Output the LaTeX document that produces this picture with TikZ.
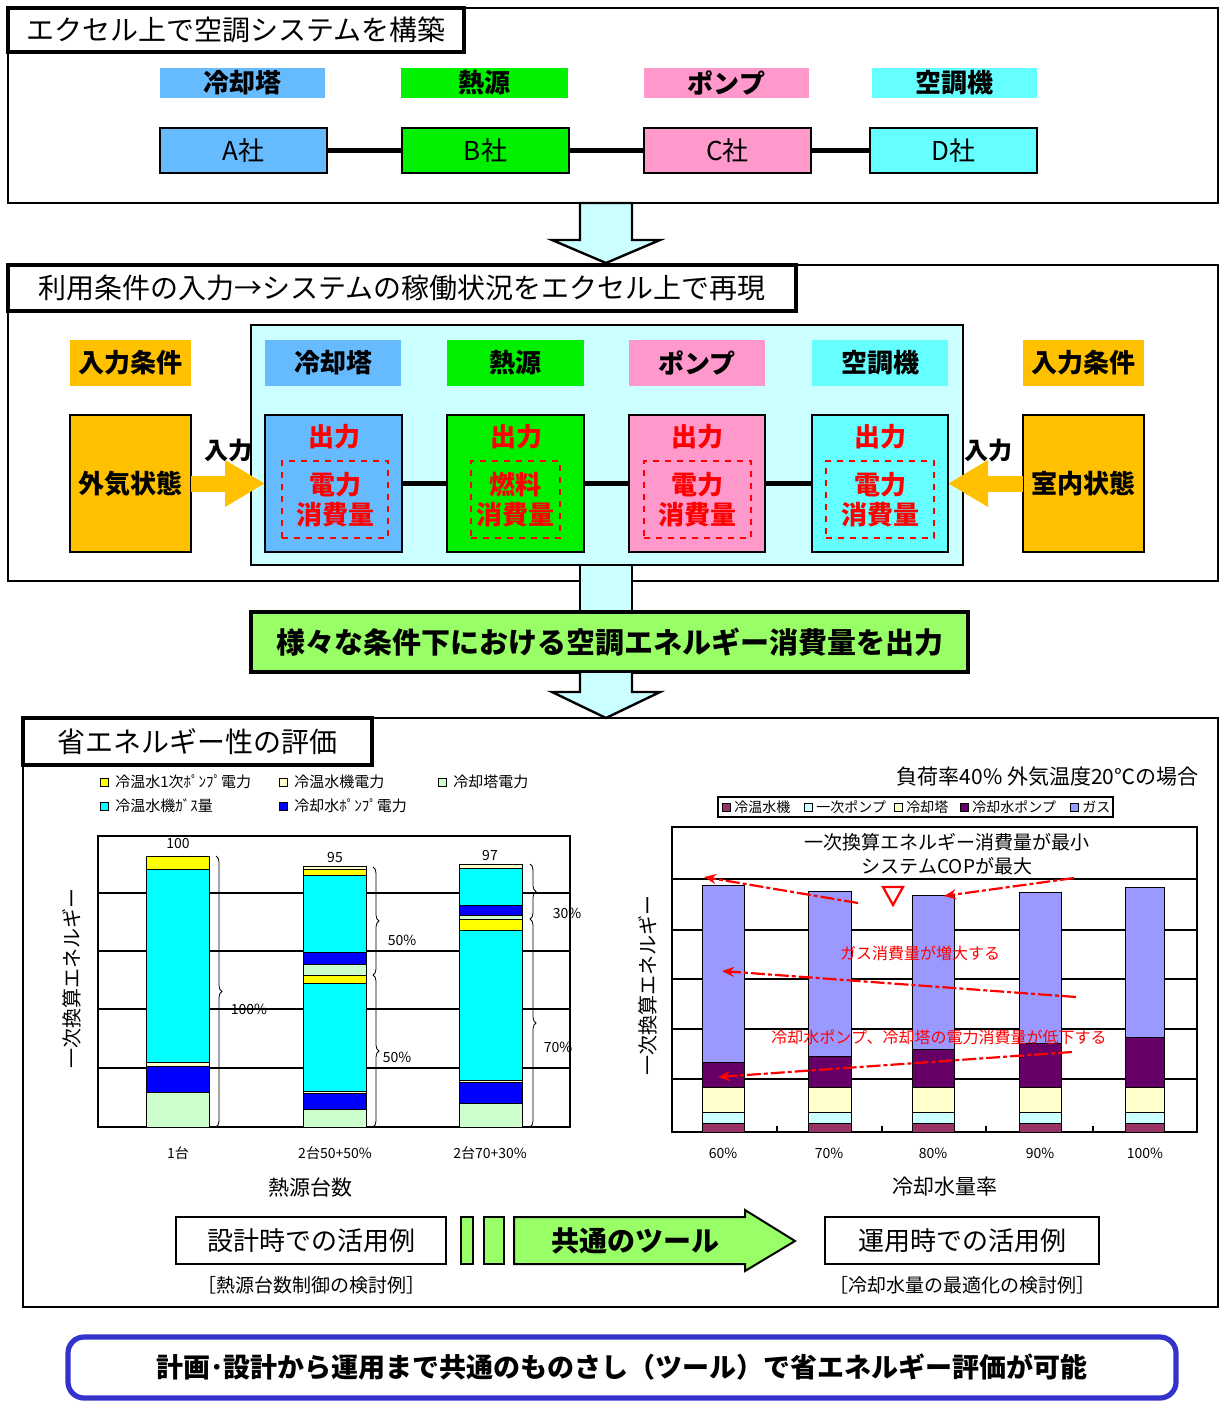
\documentclass[tikz,border=0pt]{standalone}
\usepackage{fontspec}
\setmainfont{Noto Sans CJK JP}
\usetikzlibrary{arrows.meta,decorations.pathreplacing}
\definecolor{cBlue}{HTML}{66BBFF}
\definecolor{cGreen}{HTML}{00F000}
\definecolor{cPink}{HTML}{FF99CC}
\definecolor{cCyan}{HTML}{66FFFF}
\definecolor{cOrange}{HTML}{FFC000}
\definecolor{cLCyan}{HTML}{CCFFFF}
\definecolor{cLGreen}{HTML}{99FF66}
\definecolor{lcY}{HTML}{FFFF00}
\definecolor{lcC}{HTML}{00FFFF}
\definecolor{lcB}{HTML}{0000FF}
\definecolor{lcG}{HTML}{CCFFCC}
\definecolor{lcLY}{HTML}{FFFFCC}
\definecolor{rM}{HTML}{993366}
\definecolor{rC}{HTML}{CCFFFF}
\definecolor{rY}{HTML}{FFFFCC}
\definecolor{rP}{HTML}{660066}
\definecolor{rG}{HTML}{9999FF}
\definecolor{bBlue}{HTML}{3333CC}
\newcommand\myfs[1]{\fontsize{#1pt}{#1pt}\selectfont}
\newcommand\lseg[5]{\filldraw[fill=#5,draw=black,line width=0.5pt] (#1,#3) rectangle (#2,#4);}
% \mybox[options]{x1}{y1}{x2}{y2}{name}{text}
\newcommand\mybox[7][]{\node[inner sep=0pt, outer sep=0pt, minimum width={(#4-#2)*0.5pt}, minimum height={(#5-#3)*0.5pt}, #1] (#6) at ({(#2+#4)/2},{(#3+#5)/2}) {#7};}
\tikzset{
 sec/.style={draw, line width=1.2pt},
 ttl/.style={draw, line width=2pt, fill=white, font=\myfs{14}},
 hdr/.style={font=\myfs{13}\bfseries},
 cbox/.style={draw, line width=1.2pt, font=\myfs{13}},
 link/.style={line width=2.2pt},
 hollow/.style={draw, line width=1.2pt, fill=cLCyan},
 redtxt/.style={text=red, font=\myfs{13}\bfseries},
 dbox/.style={draw=red, dashed, line width=0.8pt, align=center, text=red, font=\fontsize{13pt}{15pt}\selectfont\bfseries},
 fat/.style={cOrange, line width=8pt, -{Triangle[length=20pt,width=22pt]}},
 small/.style={font=\myfs{7}, inner sep=0pt},
 leg/.style={font=\myfs{7.5}, inner sep=0pt},
 ann/.style={red, line width=1.1pt, dash pattern=on 7pt off 1.5pt on 2pt off 1.5pt, -{Stealth[length=6pt,width=5pt]}},
 annt/.style={text=red, font=\myfs{8}, inner sep=0pt},
 plain/.style={draw, line width=1.2pt, fill=white, font=\myfs{13}},
}
\begin{document}
\begin{tikzpicture}[x=0.5pt,y=-0.5pt]
\useasboundingbox (0,0) rectangle (1220,1401);
\fill[white] (0,0) rectangle (1220,1401);
% ---------- section 1
\mybox[sec]{8}{8}{1218}{203}{s1}{}
\mybox[ttl]{8}{8}{464}{52}{t1}{エクセル上で空調システムを構築}
\mybox[hdr, fill=cBlue]{160}{68}{325}{98}{h11}{冷却塔}
\mybox[hdr, fill=cGreen]{401}{68}{568}{98}{h12}{熱源}
\mybox[hdr, fill=cPink]{644}{68}{809}{98}{h13}{ポンプ}
\mybox[hdr, fill=cCyan]{872}{68}{1037}{98}{h14}{空調機}
\mybox[cbox, fill=cBlue]{160}{128}{327}{173}{c1}{A社}
\mybox[cbox, fill=cGreen]{402}{128}{569}{173}{c2}{B社}
\mybox[cbox, fill=cPink]{644}{128}{811}{173}{c3}{C社}
\mybox[cbox, fill=cCyan]{870}{128}{1037}{173}{c4}{D社}
\draw[link] (c1) -- (c2);
\draw[link] (c2) -- (c3);
\draw[link] (c3) -- (c4);
% arrow 1
\draw[hollow] (580,203) -- (632,203) -- (632,240) -- (660,240) -- (606,263) -- (552,240) -- (580,240) -- cycle;
% ---------- section 2
\mybox[sec]{8}{265}{1218}{581}{s2}{}
\mybox[ttl]{8}{265}{796}{311}{t2}{利用条件の入力→システムの稼働状況をエクセル上で再現}
\mybox[draw, line width=1pt, fill=cLCyan]{251}{325}{963}{565}{ib}{}
\mybox[hdr, fill=cOrange]{70}{340}{191}{386}{in1}{入力条件}
\mybox[hdr, fill=cOrange]{1023}{340}{1144}{386}{in2}{入力条件}
\mybox[hdr, fill=cBlue]{265}{340}{401}{386}{h21}{冷却塔}
\mybox[hdr, fill=cGreen]{447}{340}{584}{386}{h22}{熱源}
\mybox[hdr, fill=cPink]{629}{340}{765}{386}{h23}{ポンプ}
\mybox[hdr, fill=cCyan]{812}{340}{948}{386}{h24}{空調機}
\mybox[cbox, fill=cBlue]{265}{415}{402}{552}{b1}{}
\mybox[cbox, fill=cGreen]{447}{415}{584}{552}{b2}{}
\mybox[cbox, fill=cPink]{629}{415}{765}{552}{b3}{}
\mybox[cbox, fill=cCyan]{812}{415}{948}{552}{b4}{}
\mybox[cbox, fill=cOrange, font=\myfs{13}\bfseries]{70}{415}{191}{552}{ex1}{外気状態}
\mybox[cbox, fill=cOrange, font=\myfs{13}\bfseries]{1023}{415}{1144}{552}{ex2}{室内状態}
\node[redtxt] (o1) at (334,437) {出力};
\node[redtxt] (o2) at (516,437) {出力};
\node[redtxt] (o3) at (697,437) {出力};
\node[redtxt] (o4) at (880,437) {出力};
\mybox[dbox]{282}{461}{388}{538}{d1}{電力\\消費量}
\mybox[dbox]{471}{461}{560}{538}{d2}{燃料\\消費量}
\mybox[dbox]{644}{461}{751}{538}{d3}{電力\\消費量}
\mybox[dbox]{826}{461}{934}{538}{d4}{電力\\消費量}
\draw[link] (b1) -- (b2);
\draw[link] (b2) -- (b3);
\draw[link] (b3) -- (b4);
\draw[fat] (ex1.east) -- (b1.west);
\draw[fat] (ex2.west) -- (b4.east);
\node[font=\myfs{12}\bfseries, inner sep=0pt] (l1) at (228,450) {入力};
\node[font=\myfs{12}\bfseries, inner sep=0pt] (l2) at (988,450) {入力};
% arrow 2 shaft
\fill[cLCyan] (580,566) rectangle (632,612);
\draw[line width=1.2pt] (580,566) -- (580,612) (632,566) -- (632,612);
\mybox[draw, line width=2.2pt, fill=cLGreen, font=\myfs{14.5}\bfseries]{251}{612}{968}{672}{gb}{様々な条件下における空調エネルギー消費量を出力}
% arrow 3
\draw[hollow] (580,673) -- (580,692) -- (552,692) -- (606,718) -- (660,692) -- (632,692) -- (632,673);
% ---------- section 3
\mybox[sec]{23}{718}{1218}{1307}{s3}{}
\mybox[ttl]{23}{718}{372}{765}{t3}{省エネルギー性の評価}
% left chart legend
\draw[fill=lcY] (100,778) rectangle (108,786);
\node[leg, anchor=west] (lg1) at (115,782) {冷温水1次ﾎﾟﾝﾌﾟ電力};
\draw[fill=lcLY] (279,778) rectangle (287,786);
\node[leg, anchor=west] (lg2) at (294,782) {冷温水機電力};
\draw[fill=lcG] (438,778) rectangle (446,786);
\node[leg, anchor=west] (lg3) at (453,782) {冷却塔電力};
\draw[fill=lcC] (100,802) rectangle (108,810);
\node[leg, anchor=west] (lg4) at (115,806) {冷温水機ｶﾞｽ量};
\draw[fill=lcB] (279,802) rectangle (287,810);
\node[leg, anchor=west] (lg5) at (294,806) {冷却水ﾎﾟﾝﾌﾟ電力};
% left plot
\draw[line width=1pt, fill=white] (98,836) rectangle (570,1127);
\foreach \gy in {893,951,1009,1068} \draw[line width=1pt] (98,\gy) -- (570,\gy);
% bar 1
\lseg{146}{209}{856}{869}{lcY}
\lseg{146}{209}{869}{1062}{lcC}
\lseg{146}{209}{1062}{1066}{lcLY}
\lseg{146}{209}{1066}{1092}{lcB}
\lseg{146}{209}{1092}{1127}{lcG}
% bar 2
\lseg{303}{366}{866}{869}{lcLY}
\lseg{303}{366}{869}{875}{lcY}
\lseg{303}{366}{875}{952}{lcC}
\lseg{303}{366}{952}{964}{lcB}
\lseg{303}{366}{964}{975}{lcG}
\lseg{303}{366}{975}{983}{lcY}
\lseg{303}{366}{983}{1091}{lcC}
\lseg{303}{366}{1091}{1093}{lcLY}
\lseg{303}{366}{1093}{1109}{lcB}
\lseg{303}{366}{1109}{1127}{lcG}
% bar 3
\lseg{459}{522}{864}{868}{lcLY}
\lseg{459}{522}{868}{905}{lcC}
\lseg{459}{522}{905}{915}{lcB}
\lseg{459}{522}{915}{919}{lcG}
\lseg{459}{522}{919}{930}{lcY}
\lseg{459}{522}{930}{1080}{lcC}
\lseg{459}{522}{1080}{1082}{lcLY}
\lseg{459}{522}{1082}{1103}{lcB}
\lseg{459}{522}{1103}{1127}{lcG}
\node[small] (v1) at (178,844) {100};
\node[small] (v2) at (335,857) {95};
\node[small] (v3) at (490,855) {97};
\draw[decorate, decoration={brace, amplitude=3pt}] (216,856) -- (216,1127);
\draw[decorate, decoration={brace, amplitude=3pt}] (373,867) -- (373,975);
\draw[decorate, decoration={brace, amplitude=3pt}] (373,975) -- (373,1127);
\draw[decorate, decoration={brace, amplitude=3pt}] (530,864) -- (530,919);
\draw[decorate, decoration={brace, amplitude=3pt}] (530,919) -- (530,1127);
\node[small] (p1) at (249,1009) {100\%};
\node[small] (p2) at (402,940) {50\%};
\node[small] (p3) at (397,1057) {50\%};
\node[small] (p4) at (567,913) {30\%};
\node[small] (p5) at (558,1047) {70\%};
\node[small] (x1) at (178,1153) {1台};
\node[small] (x2) at (335,1153) {2台50+50\%};
\node[small] (x3) at (490,1153) {2台70+30\%};
\node[font=\myfs{10.5}, inner sep=0pt] (xt1) at (310,1187) {熱源台数};
\node[font=\myfs{10}, inner sep=0pt, rotate=90] (yt1) at (72,978) {一次換算エネルギー};
% right chart
\node[font=\myfs{10.5}, inner sep=0pt, anchor=east] (rt) at (1199,777) {負荷率40\% 外気温度20℃の場合};
\draw[line width=1pt, fill=white] (718,797) rectangle (1113,817);
\draw[fill=rM] (722,803) rectangle (730,811);
\node[small, anchor=west] (rl1) at (734,807) {冷温水機};
\draw[fill=rC] (804,803) rectangle (812,811);
\node[small, anchor=west] (rl2) at (816,807) {一次ポンプ};
\draw[fill=rY] (894,803) rectangle (902,811);
\node[small, anchor=west] (rl3) at (906,807) {冷却塔};
\draw[fill=rP] (960,803) rectangle (968,811);
\node[small, anchor=west] (rl4) at (972,807) {冷却水ポンプ};
\draw[fill=rG] (1070,803) rectangle (1078,811);
\node[small, anchor=west] (rl5) at (1082,807) {ガス};
\draw[line width=1pt, fill=white] (672,827) rectangle (1197,1132);
\foreach \gy in {879,930,979,1029,1079} \draw[line width=1pt] (672,\gy) -- (1197,\gy);
\foreach \tx in {777,882,986,1093} \draw[line width=1pt] (\tx,1132) -- (\tx,1126);
\node[font=\myfs{9.5}, inner sep=0pt] (rb1) at (947,842) {一次換算エネルギー消費量が最小};
\node[font=\myfs{9.5}, inner sep=0pt] (rb2) at (947,866) {システムCOPが最大};
\foreach \xa/\xb/\ta/\tb in {702/744/885/1062, 808/851/891/1056, 912/954/895/1049, 1019/1061/892/1043, 1125/1164/887/1037}{
  \lseg{\xa}{\xb}{\ta}{\tb}{rG}
  \lseg{\xa}{\xb}{\tb}{1087}{rP}
  \lseg{\xa}{\xb}{1087}{1112}{rY}
  \lseg{\xa}{\xb}{1112}{1123}{rC}
  \lseg{\xa}{\xb}{1123}{1132}{rM}
}
\draw[red, line width=1.1pt] (883,887) -- (903,887) -- (893,905) -- cycle;
\coordinate (a1s) at (858,903); \coordinate (a1e) at (704,877);
\coordinate (a2s) at (1074,878); \coordinate (a2e) at (944,896);
\coordinate (a3s) at (1076,997); \coordinate (a3e) at (722,971);
\coordinate (a4s) at (1072,1052); \coordinate (a4e) at (718,1077);
\draw[ann] (a1s) -- (a1e);
\draw[ann] (a2s) -- (a2e);
\draw[ann] (a3s) -- (a3e);
\draw[ann] (a4s) -- (a4e);
\node[annt] (r1) at (920,953) {ガス消費量が増大する};
\node[annt] (r2) at (939,1037) {冷却水ポンプ、冷却塔の電力消費量が低下する};
\node[small] (rx1) at (723,1153) {60\%};
\node[small] (rx2) at (829,1153) {70\%};
\node[small] (rx3) at (933,1153) {80\%};
\node[small] (rx4) at (1040,1153) {90\%};
\node[small] (rx5) at (1145,1153) {100\%};
\node[font=\myfs{10.5}, inner sep=0pt] (xt2) at (945,1187) {冷却水量率};
\node[font=\myfs{10}, inner sep=0pt, rotate=90] (yt2) at (648,985) {一次換算エネルギー};
% bottom of section 3
\mybox[plain]{176}{1217}{446}{1264}{u1}{設計時での活用例}
\node[font=\myfs{9.5}, inner sep=0pt] (u1c) at (311,1285) {［熱源台数制御の検討例］};
\mybox[draw, line width=1pt, fill=cLGreen]{461}{1217}{473}{1264}{g1}{}
\mybox[draw, line width=1pt, fill=cLGreen]{484}{1217}{504}{1264}{g2}{}
\draw[line width=1pt, fill=cLGreen] (514,1217) -- (745,1217) -- (745,1210) -- (795,1241) -- (745,1271) -- (745,1264) -- (514,1264) -- cycle;
\node[font=\myfs{14}\bfseries, inner sep=0pt] (tool) at (635,1241) {共通のツール};
\mybox[plain]{825}{1217}{1099}{1264}{u2}{運用時での活用例}
\node[font=\myfs{9.5}, inner sep=0pt] (u2c) at (962,1285) {［冷却水量の最適化の検討例］};
% final box
\mybox[draw=bBlue, line width=2.6pt, rounded corners=8pt, font=\myfs{13.5}\bfseries]{68}{1337}{1176}{1398}{fin}{計画･設計から運用まで共通のものさし（ツール）で省エネルギー評価が可能}
\end{tikzpicture}
\end{document}
